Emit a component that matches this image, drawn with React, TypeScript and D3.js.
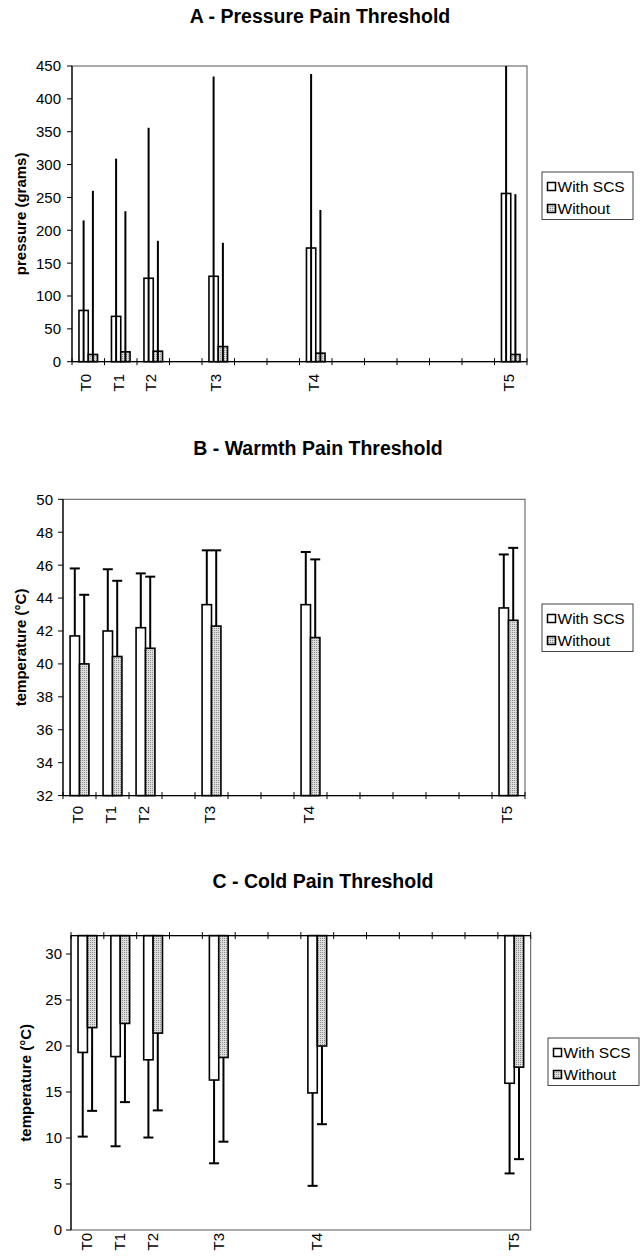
import * as d3 from "d3";

// 14 equal slots on the time axis, only some carry a measurement
const slotLabels = ["T0", "T1", "T2", "", "T3", "", "", "T4", "", "", "", "", "", "T5"];
const timepoints = ["T0", "T1", "T2", "T3", "T4", "T5"];
const seriesNames = ["With SCS", "Without"];

// A - pressure (grams), error = end of the SD whisker
const pressureWith = [78, 69, 127, 130, 173, 256];
const pressureWithErr = [215, 309, 356, 434, 438, 530];
const pressureWithout = [11, 15, 16, 23, 13, 11];
const pressureWithoutErr = [260, 229, 184, 181, 231, 255];
const pressureTicks = [0, 50, 100, 150, 200, 250, 300, 350, 400, 450];

// B - warmth (°C)
const warmWith = [41.7, 42.0, 42.2, 43.6, 43.6, 43.4];
const warmWithErr = [45.8, 45.75, 45.5, 46.9, 46.8, 46.65];
const warmWithout = [40.0, 40.45, 40.95, 42.3, 41.6, 42.65];
const warmWithoutErr = [44.2, 45.05, 45.3, 46.9, 46.35, 47.05];
const warmTicks = [32, 34, 36, 38, 40, 42, 44, 46, 48, 50];

// C - cold (°C), bars hang from the top
const coldWith = [19.3, 18.85, 18.5, 16.3, 14.9, 15.95];
const coldWithErr = [10.15, 9.1, 10.05, 7.25, 4.8, 6.15];
const coldWithout = [22.0, 22.45, 21.4, 18.75, 20.0, 17.7];
const coldWithoutErr = [12.95, 13.9, 13.0, 9.6, 11.5, 7.7];
const coldTicks = [0, 5, 10, 15, 20, 25, 30];

const FONT = "'Liberation Sans', Arial, Helvetica, sans-serif";

type Mode = "both" | "up" | "down";

interface PanelCfg {
  id: string;
  title: string;
  titleX: number;
  titleY: number;
  yLabel: string;
  yLabelX: number;
  left: number;
  right: number;
  top: number;
  bottom: number;
  domain: [number, number];
  ticks: number[];
  tickGap: number;
  xLabelY: number;
  xLabelDx: number;
  xAxisTop: boolean;
  mode: Mode;
  values: number[][];
  errs: number[][];
  legendX: number;
  legendY: number;
}

const panels: PanelCfg[] = [
  {
    id: "a",
    title: "A - Pressure Pain Threshold",
    titleX: 320,
    titleY: 23,
    yLabel: "pressure (grams)",
    yLabelX: 26,
    left: 72,
    right: 527,
    top: 66,
    bottom: 361.7,
    domain: [0, 450],
    ticks: pressureTicks,
    tickGap: 11,
    xLabelY: 374,
    xLabelDx: 3,
    xAxisTop: false,
    mode: "both",
    values: [pressureWith, pressureWithout],
    errs: [pressureWithErr, pressureWithoutErr],
    legendX: 542,
    legendY: 172,
  },
  {
    id: "b",
    title: "B - Warmth Pain Threshold",
    titleX: 318,
    titleY: 455,
    yLabel: "temperature (°C)",
    yLabelX: 26,
    left: 63,
    right: 525,
    top: 499.3,
    bottom: 795.6,
    domain: [32, 50],
    ticks: warmTicks,
    tickGap: 10,
    xLabelY: 806,
    xLabelDx: 3,
    xAxisTop: false,
    mode: "up",
    values: [warmWith, warmWithout],
    errs: [warmWithErr, warmWithoutErr],
    legendX: 542,
    legendY: 604,
  },
  {
    id: "c",
    title: "C - Cold Pain Threshold",
    titleX: 323,
    titleY: 888,
    yLabel: "temperature (°C)",
    yLabelX: 31,
    left: 71,
    right: 530.7,
    top: 935.6,
    bottom: 1230,
    domain: [0, 32],
    ticks: coldTicks,
    tickGap: 9,
    xLabelY: 1233,
    xLabelDx: 5,
    xAxisTop: true,
    mode: "down",
    values: [coldWith, coldWithout],
    errs: [coldWithErr, coldWithoutErr],
    legendX: 548,
    legendY: 1038,
  },
];

function Panel({ p }: { p: PanelCfg }) {
  const y = d3.scaleLinear().domain(p.domain).range([p.bottom, p.top]);
  const x = d3
    .scaleBand<number>()
    .domain(d3.range(slotLabels.length))
    .range([p.left, p.right]);
  const step = x.step();
  const bw = step / 3.5;
  const [lo, hi] = p.domain;
  const clamp = (v: number) => Math.max(lo, Math.min(hi, v));
  const axisY = p.xAxisTop ? p.top : p.bottom;
  const boundaries = d3.range(slotLabels.length + 1).map((i) =>
    i < slotLabels.length ? (x(i) as number) : p.right
  );

  return (
    <g>
      <text
        x={p.titleX}
        y={p.titleY}
        textAnchor="middle"
        fontWeight="bold"
        fontSize={19.5}
        fontFamily={FONT}
      >
        {p.title}
      </text>

      {/* plot area frame */}
      <rect
        x={p.left}
        y={p.top}
        width={p.right - p.left}
        height={p.bottom - p.top}
        fill="none"
        stroke="#555"
        strokeWidth={1}
      />

      {/* bars */}
      {timepoints.map((t, i) => {
        const s = slotLabels.indexOf(t);
        const cx = (x(s) as number) + step / 2;
        return p.values.map((vals, k) => {
          const v = vals[i];
          const bx = cx - bw + k * bw;
          const y0 = p.mode === "down" ? y(hi) : y(lo);
          const y1 = y(v);
          return (
            <rect
              key={`${p.id}-bar-${t}-${k}`}
              x={bx}
              y={Math.min(y0, y1)}
              width={bw}
              height={Math.abs(y1 - y0)}
              fill={k === 0 ? "#fff" : `url(#dots)`}
              stroke="#000"
              strokeWidth={1.6}
            />
          );
        });
      })}

      {/* error bars */}
      {timepoints.map((t, i) => {
        const s = slotLabels.indexOf(t);
        const cx = (x(s) as number) + step / 2;
        return p.values.map((vals, k) => {
          const v = vals[i];
          const e = p.errs[k][i];
          const ex = cx - bw / 2 + k * bw;
          if (p.mode === "both") {
            const sd = e - v;
            return (
              <line
                key={`${p.id}-err-${t}-${k}`}
                x1={ex}
                x2={ex}
                y1={y(clamp(v - sd))}
                y2={y(clamp(e))}
                stroke="#000"
                strokeWidth={2}
              />
            );
          }
          return (
            <g key={`${p.id}-err-${t}-${k}`}>
              <line x1={ex} x2={ex} y1={y(v)} y2={y(e)} stroke="#000" strokeWidth={2} />
              <line
                x1={ex - 5}
                x2={ex + 5}
                y1={y(e)}
                y2={y(e)}
                stroke="#000"
                strokeWidth={2}
              />
            </g>
          );
        });
      })}

      {/* y axis */}
      <line x1={p.left} x2={p.left} y1={p.top} y2={p.bottom} stroke="#000" strokeWidth={1.2} />
      {p.ticks.map((tk) => (
        <g key={`${p.id}-yt-${tk}`}>
          <line x1={p.left - 5} x2={p.left} y1={y(tk)} y2={y(tk)} stroke="#000" strokeWidth={1} />
          <text
            x={p.left - p.tickGap}
            y={y(tk)}
            dy="0.36em"
            textAnchor="end"
            fontSize={15}
            fontFamily={FONT}
          >
            {tk}
          </text>
        </g>
      ))}
      <text
        transform={`translate(${p.yLabelX},${(p.top + p.bottom) / 2}) rotate(-90)`}
        textAnchor="middle"
        fontWeight="bold"
        fontSize={15}
        fontFamily={FONT}
      >
        {p.yLabel}
      </text>

      {/* x axis */}
      <line x1={p.left} x2={p.right} y1={axisY} y2={axisY} stroke="#000" strokeWidth={1.2} />
      {boundaries.map((bx, i) => (
        <line
          key={`${p.id}-xt-${i}`}
          x1={bx}
          x2={bx}
          y1={axisY - 3.5}
          y2={axisY + 3.5}
          stroke="#000"
          strokeWidth={1}
        />
      ))}
      {slotLabels.map((lab, i) =>
        lab ? (
          <text
            key={`${p.id}-xl-${i}`}
            transform={`translate(${(x(i) as number) + step / 2 + p.xLabelDx},${p.xLabelY}) rotate(-90)`}
            textAnchor="end"
            fontSize={15}
            fontFamily={FONT}
          >
            {lab}
          </text>
        ) : null
      )}

      {/* legend */}
      <g transform={`translate(${p.legendX},${p.legendY})`}>
        <rect x={0} y={0} width={91} height={47.5} fill="#fff" stroke="#444" strokeWidth={1} />
        {seriesNames.map((name, k) => (
          <g key={`${p.id}-lg-${k}`} transform={`translate(0,${k * 22})`}>
            <rect
              x={5.5}
              y={10.5}
              width={8}
              height={8}
              fill={k === 0 ? "#fff" : "url(#dots)"}
              stroke="#000"
              strokeWidth={1.5}
            />
            <text x={15.5} y={19.5} fontSize={15.5} fontFamily={FONT}>
              {name}
            </text>
          </g>
        ))}
      </g>
    </g>
  );
}

export default function App() {
  return (
    <svg
      width={640}
      height={1259}
      viewBox="0 0 640 1259"
      style={{ position: "absolute", left: 0, top: 0, background: "#fff" }}
    >
      <defs>
        <pattern id="dots" width={2} height={2} patternUnits="userSpaceOnUse">
          <rect width={2} height={2} fill="#dedede" />
          <rect width={1} height={1} fill="#8c8c8c" />
        </pattern>
      </defs>
      <rect width={640} height={1259} fill="#fff" />
      {panels.map((p) => (
        <Panel key={p.id} p={p} />
      ))}
    </svg>
  );
}
